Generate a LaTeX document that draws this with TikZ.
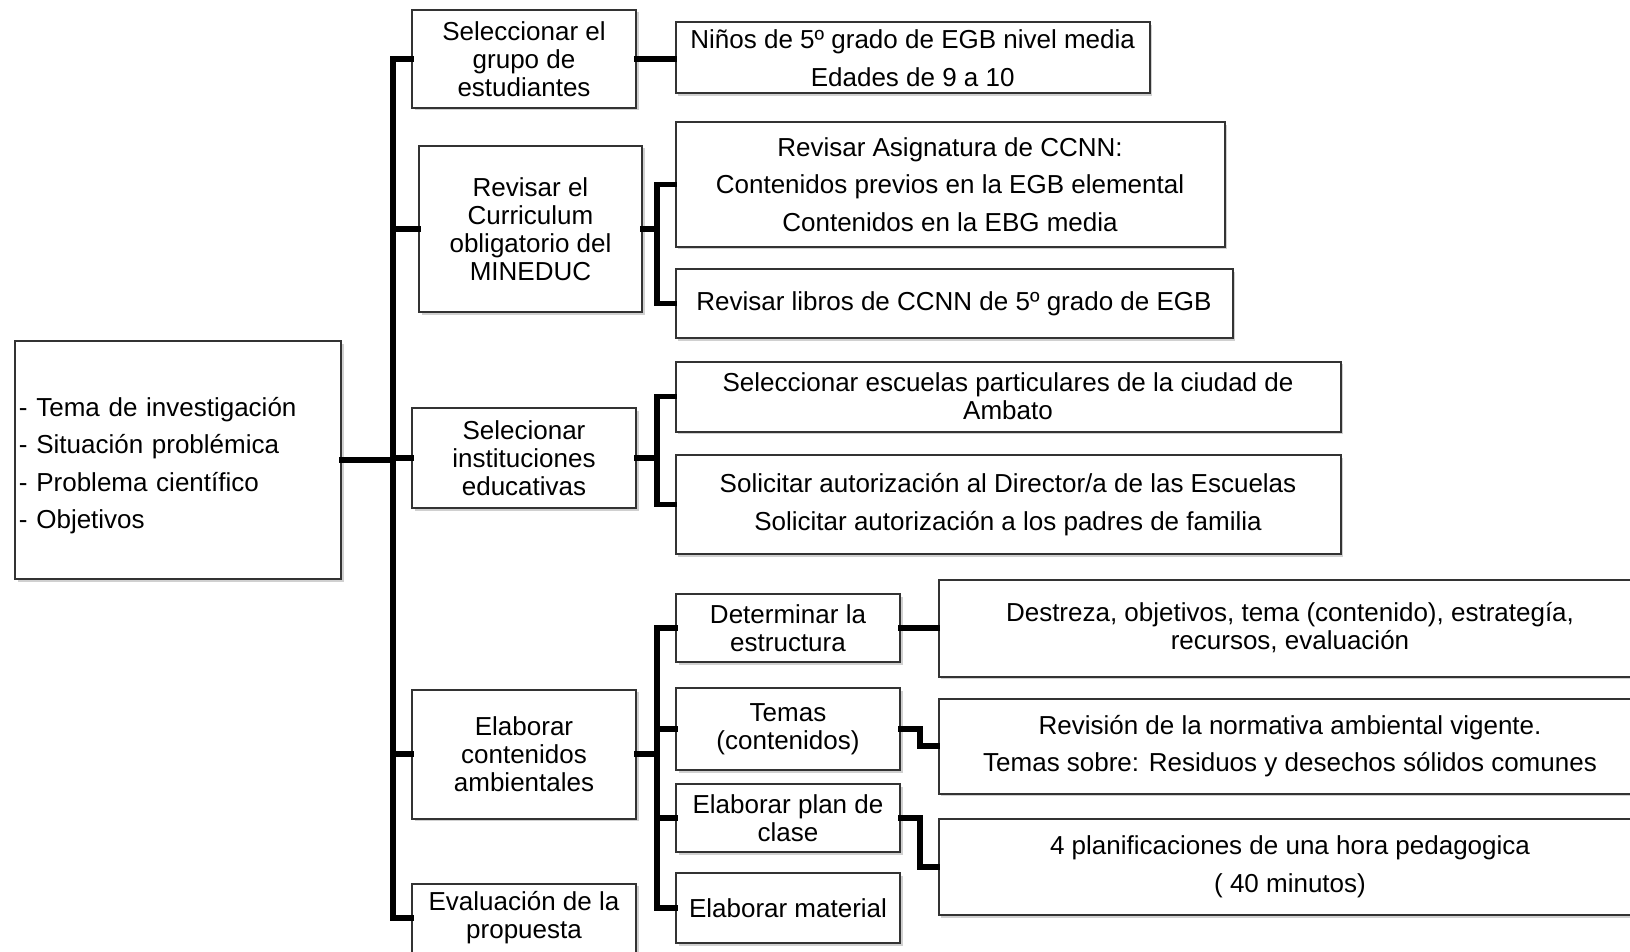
\documentclass[tikz,border=0pt]{standalone}
\usepackage{fontspec}
\setmainfont{Liberation Sans}
\usetikzlibrary{shadows}

\begin{document}
\begin{tikzpicture}[x=1pt, y=-1pt,
   box/.style={draw=black!80, line width=2pt, fill=white, inner sep=0pt, align=center,
      font=\fontsize{26}{28}\selectfont,
      drop shadow={shadow xshift=2.5pt, shadow yshift=-2.5pt, fill=black!30, opacity=.6}},
   wide/.style={box, font=\fontsize{26}{37.5}\selectfont},
   link/.style={line width=5.5pt, line join=miter, line cap=rect}]
   \useasboundingbox (0,0) rectangle (1630,952);
   \clip (0,0) rectangle (1630,952);
   \fill[white] (0,0) rectangle (1630,952);

   % Root
   \node[wide, minimum width=326, minimum height=238, text width=318, align=left] (root) at (178,460)
      {\rule{0pt}{30pt}- Tema de investigación\\- Situación problémica\\- Problema científico\\- Objetivos};

   % First level
   \node[box, minimum width=224, minimum height=98] (grupo) at (524,59)
      {Seleccionar el\\grupo de\\estudiantes};
   \node[box, minimum width=223, minimum height=166] (curri) at (530.5,229)
      {Revisar el\\Curriculum\\obligatorio del\\MINEDUC};
   \node[box, minimum width=224, minimum height=100] (inst) at (524,458)
      {Selecionar\\instituciones\\educativas};
   \node[box, minimum width=224, minimum height=129] (elab) at (524,754)
      {Elaborar\\contenidos\\ambientales};
   \node[box, minimum width=224, minimum height=69] (eval) at (524,918)
      {Evaluación de la\\propuesta};

   % Second level
   \node[wide, minimum width=474, minimum height=71] (ninos) at (912.7,58)
      {Niños de 5º grado de EGB nivel media\\Edades de 9 a 10};
   \node[wide, minimum width=549, minimum height=124] (asig) at (950,184.5)
      {Revisar Asignatura de CCNN:\\Contenidos previos en la EGB elemental\\Contenidos en la EBG media};
   \node[wide, minimum width=557, minimum height=69] (libros) at (954,303.5)
      {Revisar libros de CCNN de 5º grado de EGB};
   \node[box, minimum width=665, minimum height=70] (escuelas) at (1008,396.5)
      {Seleccionar escuelas particulares de la ciudad de\\Ambato};
   \node[wide, minimum width=665, minimum height=99] (autor) at (1008,504.7)
      {Solicitar autorización al Director/a de las Escuelas\\Solicitar autorización a los padres de familia};
   \node[box, minimum width=224, minimum height=68] (estruc) at (788,628)
      {Determinar la\\estructura};
   \node[box, minimum width=224, minimum height=82] (temas) at (788,729)
      {Temas\\(contenidos)};
   \node[box, minimum width=224, minimum height=68] (plan) at (788,818)
      {Elaborar plan de\\clase};
   \node[box, minimum width=224, minimum height=70] (mater) at (788,908)
      {Elaborar material};

   % Third level
   \node[box, minimum width=703, minimum height=97] (destr) at (1290,628)
      {Destreza, objetivos, tema (contenido), estrategía,\\recursos, evaluación};
   \node[wide, minimum width=703, minimum height=95] (norma) at (1290,746)
      {Revisión de la normativa ambiental vigente.\\Temas sobre: Residuos y desechos sólidos comunes};
   \node[wide, minimum width=703, minimum height=96] (planif) at (1290,867)
      {4 planificaciones de una hora pedagogica\\( 40 minutos)};

   % Connectors
   \coordinate (trunk) at (393,0);
   \coordinate (j2) at (657,0);
   \coordinate (j3) at (920,0);
   \draw[link] (root.east) -- (root.east -| trunk);
   \draw[link] (grupo.west) -- (grupo.west -| trunk) -- (eval.west -| trunk) -- (eval.west);
   \draw[link] (curri.west -| trunk) -- (curri.west);
   \draw[link] (inst.west -| trunk) -- (inst.west);
   \draw[link] (elab.west -| trunk) -- (elab.west);

   \draw[link] (grupo.east) -- (grupo.east -| ninos.west);
   \draw[link] (curri.east) -- (curri.east -| j2);
   \draw[link] (asig.west) -- (asig.west -| j2) -- (libros.west -| j2) -- (libros.west);
   \draw[link] (inst.east) -- (inst.east -| j2);
   \draw[link] (escuelas.west) -- (escuelas.west -| j2) -- (autor.west -| j2) -- (autor.west);
   \draw[link] (elab.east) -- (elab.east -| j2);
   \draw[link] (estruc.west) -- (estruc.west -| j2) -- (mater.west -| j2) -- (mater.west);
   \draw[link] (temas.west -| j2) -- (temas.west);
   \draw[link] (plan.west -| j2) -- (plan.west);

   \draw[link] (estruc.east) -- (estruc.east -| destr.west);
   \draw[link] (temas.east) -- (temas.east -| j3) -- (norma.west -| j3) -- (norma.west);
   \draw[link] (plan.east) -- (plan.east -| j3) -- (planif.west -| j3) -- (planif.west);
\end{tikzpicture}
\end{document}
